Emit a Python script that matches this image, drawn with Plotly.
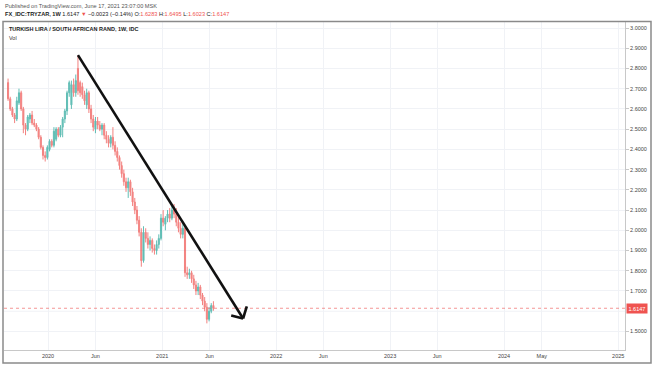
import pandas as pd
import plotly.graph_objects as go

# ---------------- data (weekly TRY/ZAR candles) ----------------
start_week = "2019-08-26"
opens = [2.73, 2.65, 2.60, 2.57, 2.55, 2.63, 2.68, 2.60, 2.52, 2.50,
         2.55, 2.57, 2.53, 2.52, 2.50, 2.46, 2.41, 2.37, 2.36, 2.40,
         2.44, 2.42, 2.45, 2.50, 2.47, 2.51, 2.55, 2.59, 2.68, 2.62,
         2.72, 2.68, 2.80, 2.73, 2.71, 2.67, 2.62, 2.68, 2.60, 2.55,
         2.50, 2.54, 2.52, 2.50, 2.52, 2.47, 2.45, 2.43, 2.46, 2.42,
         2.39, 2.36, 2.32, 2.28, 2.24, 2.21, 2.24, 2.19, 2.14, 2.10,
         2.05, 1.99, 1.85, 1.99, 1.96, 1.93, 1.95, 1.91, 1.90, 1.93,
         1.96, 2.06, 2.03, 2.06, 2.08, 2.06, 2.10, 2.08, 2.04, 2.01,
         1.98, 2.01, 1.79, 1.78, 1.79, 1.76, 1.73, 1.70, 1.72, 1.68,
         1.65, 1.62, 1.56, 1.60, 1.6283]
highs = [2.75, 2.66, 2.61, 2.58, 2.66, 2.70, 2.69, 2.61, 2.53, 2.57,
         2.58, 2.59, 2.55, 2.53, 2.51, 2.47, 2.42, 2.39, 2.42, 2.45,
         2.45, 2.51, 2.51, 2.51, 2.52, 2.56, 2.60, 2.69, 2.74, 2.74,
         2.75, 2.77, 2.865, 2.74, 2.73, 2.69, 2.70, 2.69, 2.62, 2.57,
         2.56, 2.56, 2.54, 2.53, 2.53, 2.49, 2.47, 2.47, 2.51, 2.44,
         2.41, 2.37, 2.34, 2.30, 2.26, 2.26, 2.25, 2.21, 2.16, 2.12,
         2.07, 2.01, 2.02, 2.01, 1.99, 1.97, 1.96, 1.93, 1.95, 1.98,
         2.08, 2.10, 2.07, 2.10, 2.11, 2.12, 2.13, 2.11, 2.07, 2.04,
         2.03, 2.02, 1.82, 1.81, 1.80, 1.78, 1.75, 1.74, 1.73, 1.69,
         1.67, 1.64, 1.62, 1.64, 1.6495]
lows = [2.64, 2.59, 2.56, 2.53, 2.54, 2.62, 2.59, 2.48, 2.47, 2.49,
        2.53, 2.52, 2.51, 2.49, 2.45, 2.40, 2.35, 2.34, 2.35, 2.39,
        2.41, 2.41, 2.44, 2.46, 2.46, 2.46, 2.53, 2.57, 2.66, 2.60,
        2.66, 2.66, 2.67, 2.66, 2.65, 2.62, 2.60, 2.58, 2.53, 2.49,
        2.48, 2.50, 2.49, 2.47, 2.45, 2.43, 2.41, 2.41, 2.40, 2.37,
        2.34, 2.30, 2.26, 2.22, 2.19, 2.16, 2.17, 2.12, 2.08, 2.03,
        1.97, 1.82, 1.84, 1.94, 1.91, 1.90, 1.89, 1.88, 1.88, 1.91,
        1.95, 2.02, 2.00, 2.04, 2.04, 2.05, 2.06, 2.02, 1.99, 1.96,
        1.96, 1.77, 1.76, 1.76, 1.74, 1.71, 1.68, 1.68, 1.66, 1.63,
        1.60, 1.54, 1.55, 1.59, 1.6023]
closes = [2.65, 2.60, 2.57, 2.55, 2.64, 2.68, 2.60, 2.52, 2.50, 2.56,
          2.57, 2.53, 2.52, 2.50, 2.46, 2.41, 2.37, 2.36, 2.41, 2.44,
          2.42, 2.49, 2.50, 2.47, 2.51, 2.55, 2.59, 2.68, 2.73, 2.72,
          2.68, 2.74, 2.69, 2.68, 2.67, 2.64, 2.68, 2.60, 2.55, 2.51,
          2.54, 2.52, 2.50, 2.52, 2.47, 2.45, 2.43, 2.46, 2.42, 2.39,
          2.36, 2.32, 2.28, 2.24, 2.21, 2.24, 2.19, 2.14, 2.10, 2.05,
          1.99, 1.85, 1.99, 1.96, 1.93, 1.95, 1.91, 1.90, 1.93, 1.96,
          2.06, 2.04, 2.06, 2.08, 2.06, 2.10, 2.08, 2.04, 2.01, 1.98,
          2.01, 1.79, 1.78, 1.79, 1.76, 1.73, 1.70, 1.72, 1.68, 1.65,
          1.62, 1.56, 1.60, 1.628, 1.6147]
dates = pd.date_range(start_week, periods=len(closes), freq="7D")

last_price = 1.6147
# 1.6000 is hidden behind the last-price label in the reference
y_ticks = [1.5, 1.7, 1.8, 1.9, 2.0, 2.1, 2.2, 2.3, 2.4, 2.5, 2.6, 2.7, 2.8, 2.9, 3.0]
x_tick_dates = ["2020-01-01", "2020-06-01", "2021-01-01", "2021-06-01", "2022-01-01",
                "2022-06-01", "2023-01-01", "2023-06-01", "2024-01-01", "2024-05-01",
                "2025-01-01"]
x_tick_text = ["2020", "Jun", "2021", "Jun", "2022", "Jun", "2023", "Jun", "2024", "May", "2025"]

# trend arrow drawn on chart (date, price)
arrow_start = ("2020-04-06", 2.866)
arrow_tip = ("2021-09-17", 1.564)
arrow_arm1 = ("2021-08-10", 1.579)
arrow_arm2 = ("2021-09-29", 1.624)

# ---------------- layout geometry ----------------
W, H = 654, 366
PL, PR, PT, PB = 4, 625, 22, 350
x0_date = pd.Timestamp("2020-01-01")
px_per_day = 114 / 365.25
x_left = x0_date - pd.Timedelta(days=(48 - PL) / px_per_day)
x_right = x0_date + pd.Timedelta(days=(PR - 48) / px_per_day)
y_top = 3.0 + (28 - PT) / 202.3
y_bot = 3.0 - (PB - 28) / 202.3

def px(xp):
    return (xp - PL) / (PR - PL)

def py(yp):
    return (PB - yp) / (PB - PT)

UP, DN = "#26a69a", "#ef5350"
FONT = "Liberation Sans"

fig = go.Figure()
fig.add_trace(go.Candlestick(
    x=dates, open=opens, high=highs, low=lows, close=closes,
    increasing=dict(line=dict(color=UP, width=1), fillcolor=UP),
    decreasing=dict(line=dict(color=DN, width=1), fillcolor=DN),
    whiskerwidth=0, opacity=0.72, showlegend=False, hoverinfo="skip",
))

shapes = []
# faint grid line at 1.6 (label hidden by price tag)
shapes.append(dict(type="line", xref="paper", yref="y", x0=0, x1=1, y0=1.6, y1=1.6,
                   line=dict(color="#f0f2f6", width=1), layer="below"))
# last price dotted line
shapes.append(dict(type="line", xref="paper", yref="y", x0=0, x1=1,
                   y0=last_price, y1=last_price,
                   line=dict(color=DN, width=1, dash="dot"), opacity=0.6))
# arrow
for a, b in [(arrow_start, arrow_tip), (arrow_arm1, arrow_tip), (arrow_arm2, arrow_tip)]:
    shapes.append(dict(type="line", xref="x", yref="y", x0=a[0], y0=a[1], x1=b[0], y1=b[1],
                       line=dict(color="#111111", width=2.6)))
# outer frame
shapes.append(dict(type="rect", xref="paper", yref="paper",
                   x0=px(3), x1=px(651), y0=py(363), y1=py(21.5),
                   line=dict(color="#8a8a8a", width=1.5), layer="above"))

annotations = [
    dict(xref="paper", yref="paper", x=px(3), y=py(6), xanchor="left", yanchor="middle",
         text="Published on TradingView.com, June 17, 2021 23:07:00 MSK",
         showarrow=False, font=dict(family=FONT, size=5.6, color="#555555")),
    dict(xref="paper", yref="paper", x=px(3), y=py(14.5), xanchor="left", yanchor="middle",
         text=("<b>FX_IDC:TRYZAR, 1W</b> 1.6147 <span style='color:#ef5350'>▼</span> "
               "−0.0023 (−0.14%) O:<span style='color:#ef5350'>1.6283</span> "
               "H:<span style='color:#ef5350'>1.6495</span> "
               "L:<span style='color:#ef5350'>1.6023</span> "
               "C:<span style='color:#ef5350'>1.6147</span>"),
         showarrow=False, font=dict(family=FONT, size=5.6, color="#222222")),
    dict(xref="paper", yref="paper", x=px(7), y=py(29), xanchor="left", yanchor="middle",
         text="<b>TURKISH LIRA / SOUTH AFRICAN RAND, 1W, IDC</b>",
         showarrow=False, font=dict(family=FONT, size=5.5, color="#222222")),
    dict(xref="paper", yref="paper", x=px(7), y=py(37.5), xanchor="left", yanchor="middle",
         text="Vol", showarrow=False, font=dict(family=FONT, size=5.5, color="#333333")),
    dict(xref="paper", yref="y", x=px(626), y=last_price, xanchor="left", yanchor="middle",
         text="1.6147", showarrow=False, bgcolor=DN, borderpad=1.5,
         font=dict(family=FONT, size=5.5, color="white")),
]

fig.update_layout(
    width=W, height=H,
    margin=dict(l=PL, r=W - PR, t=PT, b=H - PB),
    paper_bgcolor="white", plot_bgcolor="white",
    shapes=shapes, annotations=annotations,
    xaxis=dict(type="date", range=[x_left, x_right], rangeslider=dict(visible=False),
               tickvals=x_tick_dates, ticktext=x_tick_text, ticks="",
               tickfont=dict(family=FONT, size=5.5, color="#444444"),
               showgrid=True, gridcolor="#f0f2f6", gridwidth=1,
               showline=True, linecolor="#c8c8c8", linewidth=1, zeroline=False),
    yaxis=dict(side="right", range=[y_bot, y_top], tickvals=y_ticks,
               ticktext=[f"{v:.4f}" for v in y_ticks],
               ticks="outside", ticklen=3, tickcolor="#c8c8c8",
               tickfont=dict(family=FONT, size=5.5, color="#444444"),
               showgrid=True, gridcolor="#f0f2f6", gridwidth=1,
               showline=True, linecolor="#c8c8c8", linewidth=1, zeroline=False),
)

fig.write_html("out.html")
